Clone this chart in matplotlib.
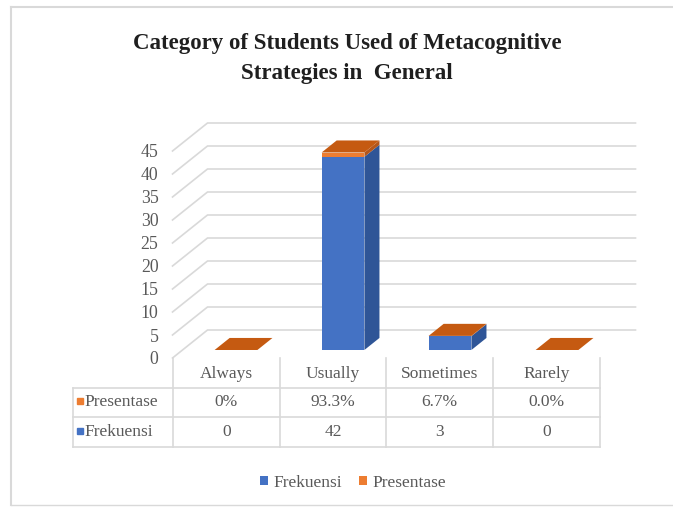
import matplotlib
matplotlib.use("Agg")
import matplotlib.pyplot as plt
from matplotlib.patches import Rectangle, Polygon, Patch
from matplotlib.lines import Line2D

# ---------------- data ----------------
categories = ["Always", "Usually", "Sometimes", "Rarely"]
frekuensi = [0, 42, 3, 0]
presentase = [0.0, 0.933, 0.067, 0.0]
presentase_labels = ["0%", "93.3%", "6.7%", "0.0%"]
frekuensi_labels = ["0", "42", "3", "0"]
yticks = list(range(0, 50, 5))
title = "Category of Students Used of Metacognitive\nStrategies in  General"

# ---------------- style ----------------
SERIF = "Liberation Serif"
TXT = "#595959"
GRID = "#D9D9D9"
BLUE_F, BLUE_S = "#4472C4", "#2F5597"
ORNG_F, ORNG_S, ORNG_T = "#ED7D31", "#B4561A", "#C55A11"

W, H = 673, 513
fig = plt.figure(figsize=(W / 100, H / 100), dpi=100)
fig.patch.set_facecolor("white")


def px(l, t, w, h):
    return [l / W, 1 - (t + h) / H, w / W, h / H]


# front plane of the 3-D chart (value axis)
ax = fig.add_axes(px(172.5, 151, 428, 207))
ax.set_xlim(-0.5, 3.5)
ax.set_ylim(0, 45)
ax.patch.set_visible(False)
for s in ax.spines.values():
    s.set_visible(False)
ax.set_xticks([])
ax.set_yticks(yticks)
ax.tick_params(axis="y", length=0, pad=10, labelsize=12.8, labelcolor=TXT)
for lab in ax.get_yticklabels():
    lab.set_family(SERIF)

# depth vector (pixels) converted into data units
ppx_x = ax.bbox.width / 4.0
ppx_y = ax.bbox.height / 45.0
ddx = 35 / ppx_x
ddy = 28 / ppx_y

# left wall diagonals + back wall gridlines
for v in yticks:
    ax.plot([-0.5, -0.5 + ddx, 3.5 + ddx], [v, v + ddy, v + ddy],
            color=GRID, lw=1.2, clip_on=False, zorder=1)

# bars (3-D boxes)
a, b, w = 0.286, 0.43, 0.40
for i, (f, p) in enumerate(zip(frekuensi, presentase)):
    x0 = i - w / 2 + a * ddx
    y0 = a * ddy
    segs = [(0, f, BLUE_F, BLUE_S), (f, f + p, ORNG_F, ORNG_S)]
    for s, e, cf, cs in segs:
        if e - s <= 0:
            continue
        ax.add_patch(Rectangle((x0, y0 + s), w, e - s, fc=cf, ec="none",
                               clip_on=False, zorder=3))
        ax.add_patch(Polygon([(x0 + w, y0 + s), (x0 + w + b * ddx, y0 + s + b * ddy),
                              (x0 + w + b * ddx, y0 + e + b * ddy), (x0 + w, y0 + e)],
                             closed=True, fc=cs, ec="none", clip_on=False, zorder=3))
    top = f + p
    ax.add_patch(Polygon([(x0, y0 + top), (x0 + w, y0 + top),
                          (x0 + w + b * ddx, y0 + top + b * ddy),
                          (x0 + b * ddx, y0 + top + b * ddy)],
                         closed=True, fc=ORNG_T, ec="none", clip_on=False, zorder=4))

# ---------------- data table ----------------
first_w = 100 / 107.0
tax = fig.add_axes(px(73, 358, 527, 89))
tax.set_xlim(-0.5 - first_w, 3.5)
tax.set_ylim(0, 3)
tax.axis("off")
xl = -0.5 - first_w
for y in [0, 1, 2]:
    tax.plot([xl, 3.5], [y, y], color=GRID, lw=1.2, clip_on=False)
tax.plot([xl, xl], [0, 2], color=GRID, lw=1.2, clip_on=False)
for xv in [-0.5, 0.5, 1.5, 2.5, 3.5]:
    tax.plot([xv, xv], [0, 3], color=GRID, lw=1.2, clip_on=False)

for i, c in enumerate(categories):
    tax.text(i, 2.45, c, ha="center", va="center", family=SERIF,
             fontsize=12.5, color=TXT)
    tax.text(i, 1.5, presentase_labels[i], ha="center", va="center",
             family=SERIF, fontsize=12.5, color=TXT)
    tax.text(i, 0.5, frekuensi_labels[i], ha="center", va="center",
             family=SERIF, fontsize=12.5, color=TXT)

for y, name, col in [(1.5, "Presentase", ORNG_F), (0.5, "Frekuensi", BLUE_F)]:
    tax.plot([xl + 0.065], [y + 0.05], marker="s", ms=5, color=col, clip_on=False)
    tax.text(xl + 0.11, y, name, ha="left", va="center", family=SERIF,
             fontsize=12.5, color=TXT)

# ---------------- legend ----------------
handles = [Patch(fc=BLUE_F, label="Frekuensi"), Patch(fc=ORNG_F, label="Presentase")]
fig.legend(handles=handles, loc="center", bbox_to_anchor=(353 / W, 1 - 483 / H),
           ncol=2, frameon=False, prop={"family": SERIF, "size": 12.5},
           labelcolor=TXT, handlelength=0.45, handleheight=0.45,
           handletextpad=0.3, columnspacing=1.0)

# ---------------- title ----------------
fig.text(347 / W, 1 - 58.5 / H, title, ha="center", va="center", family=SERIF,
         fontsize=16.5, fontweight="bold", color="#1F1F1F", linespacing=1.5)

# ---------------- chart border ----------------
bc = "#D9D9D9"
fig.add_artist(Line2D([11 / W, 11 / W], [1 - 7 / H, 1 - 505 / H], color=bc, lw=1.5))
fig.add_artist(Line2D([11 / W, 1.0], [1 - 7 / H, 1 - 7 / H], color=bc, lw=1.5))
fig.add_artist(Line2D([11 / W, 1.0], [1 - 505 / H, 1 - 505 / H], color=bc, lw=1.0))

fig.savefig("out.png", dpi=100)
